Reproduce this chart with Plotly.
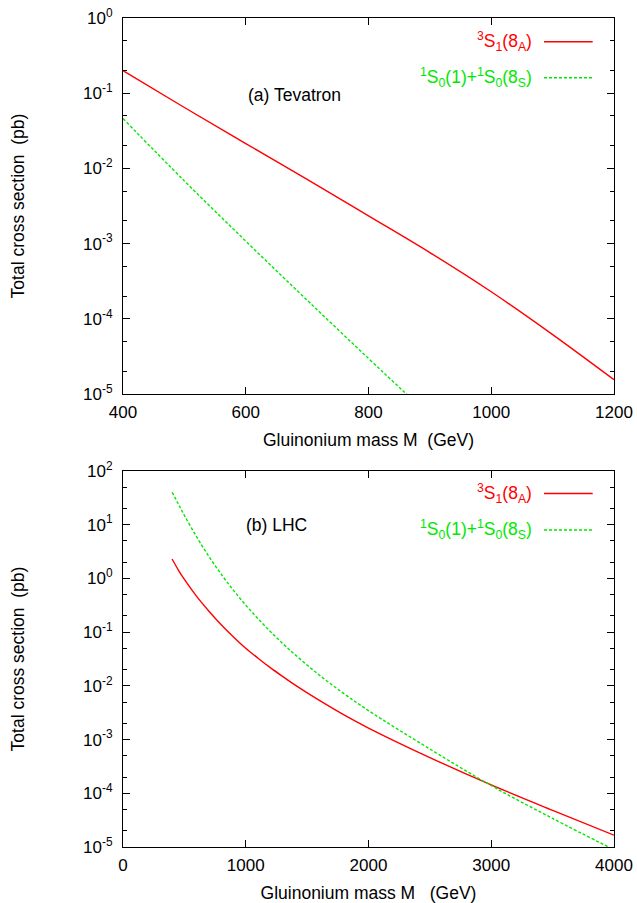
import plotly.graph_objects as go

# ---------------- data ----------------
# (a) Tevatron
tev_mass_3s1 = [400, 500, 600, 700, 800, 900, 1000, 1100, 1200]
tev_3s1 = [0.2, 0.0646, 0.0214, 7.16e-3, 2.34e-3, 7.6e-4, 2.29e-4, 6.17e-5, 1.55e-5]
tev_mass_1s0 = [400, 500, 600, 700, 800, 860, 900]
tev_1s0 = [0.046, 6.81e-3, 1.08e-3, 1.77e-4, 2.97e-5, 1.03e-5, 5.0e-6]

# (b) LHC
lhc_mass = [400, 450, 500, 600, 700, 800, 900, 1000, 1100, 1200, 1300, 1400, 1600, 1800,
            2000, 2500, 3000, 3500, 4000]
lhc_3s1 = [2.30, 1.445, 0.955, 0.462, 0.2455, 0.1377, 0.0815, 0.0501, 0.0327, 0.0218,
           0.0150, 0.01045, 5.35e-3, 2.88e-3, 1.64e-3, 4.62e-4, 1.43e-4, 4.81e-5, 1.66e-5]
lhc_1s0 = [40.1, 24.5, 14.9, 5.93, 2.56, 1.197, 0.600, 0.318, 0.178, 0.103,
           0.0618, 0.0383, 0.0158, 7.16e-3, 3.46e-3, 6.67e-4, 1.39e-4, 3.4e-5, 8.89e-6]

label_3s1 = "<sup>3</sup>S<sub>1</sub>(8<sub>A</sub>)"
label_1s0 = "<sup>1</sup>S<sub>0</sub>(1)+<sup>1</sup>S<sub>0</sub>(8<sub>S</sub>)"

top_yticks = [1e-5, 1e-4, 1e-3, 1e-2, 1e-1, 1]
top_yticktext = ["10<sup>-5</sup>", "10<sup>-4</sup>", "10<sup>-3</sup>",
                 "10<sup>-2</sup>", "10<sup>-1</sup>", "10<sup>0</sup>"]
bot_yticks = [1e-5, 1e-4, 1e-3, 1e-2, 1e-1, 1, 10, 100]
bot_yticktext = ["10<sup>-5</sup>", "10<sup>-4</sup>", "10<sup>-3</sup>",
                 "10<sup>-2</sup>", "10<sup>-1</sup>", "10<sup>0</sup>",
                 "10<sup>1</sup>", "10<sup>2</sup>"]
top_xticks = [400, 600, 800, 1000, 1200]
bot_xticks = [0, 1000, 2000, 3000, 4000]

# ---------------- styling ----------------
RED = "#ff0000"
GREEN = "#00e800"
FONT = "Liberation Sans, Arial, Helvetica, sans-serif"
FS_TICK = 17
FS = 17.5

def minor_vals(lo, hi):
    vals = []
    for e in range(lo, hi):
        for m in (2, 5):
            vals.append(m * 10.0 ** e)
    return vals

fig = go.Figure()

fig.add_trace(go.Scatter(x=tev_mass_3s1, y=tev_3s1, mode="lines",
                         line=dict(color=RED, width=1.4, shape="spline", smoothing=1),
                         xaxis="x", yaxis="y", showlegend=False))
fig.add_trace(go.Scatter(x=tev_mass_1s0, y=tev_1s0, mode="lines",
                         line=dict(color=GREEN, width=1.4, dash="3px,2px", shape="spline", smoothing=1),
                         xaxis="x", yaxis="y", showlegend=False))
fig.add_trace(go.Scatter(x=lhc_mass, y=lhc_3s1, mode="lines",
                         line=dict(color=RED, width=1.4, shape="spline", smoothing=1),
                         xaxis="x2", yaxis="y2", showlegend=False))
fig.add_trace(go.Scatter(x=lhc_mass, y=lhc_1s0, mode="lines",
                         line=dict(color=GREEN, width=1.4, dash="3px,2px", shape="spline", smoothing=1),
                         xaxis="x2", yaxis="y2", showlegend=False))

axis_common = dict(showline=True, linecolor="#000", linewidth=1, mirror="ticks",
                   ticks="inside", ticklen=7, tickwidth=1, tickcolor="#000",
                   showgrid=False, zeroline=False, automargin=False,
                   tickfont=dict(family=FONT, size=FS_TICK, color="#000"))

xtitle = "Gluinonium mass M\u00a0\u00a0(GeV)"
ytitle = "Total cross section\u00a0\u00a0(pb)"

TOP_DOM = [0.5464, 1.0]
BOT_DOM = [0.0, 0.4536]

fig.update_layout(
    width=637, height=903,
    margin=dict(l=123, r=23, t=18, b=56, autoexpand=False),
    paper_bgcolor="white", plot_bgcolor="white",
    font=dict(family=FONT, size=FS, color="#000"),
    showlegend=False,
    xaxis=dict(axis_common, domain=[0, 1], anchor="y", range=[400, 1200],
               tickmode="array", tickvals=top_xticks, ticklabelstandoff=3,
               title=dict(text=xtitle, standoff=12, font=dict(family=FONT, size=FS))),
    yaxis=dict(axis_common, domain=TOP_DOM, anchor="x", type="log", range=[-5, 0],
               tickmode="array", tickvals=top_yticks, ticktext=top_yticktext,
               ticklabelstandoff=6,
               minor=dict(tickmode="array", tickvals=minor_vals(-5, 0), ticks="inside",
                          ticklen=4, tickcolor="#000", showgrid=False),
               title=dict(text=ytitle, standoff=53, font=dict(family=FONT, size=FS))),
    xaxis2=dict(axis_common, domain=[0, 1], anchor="y2", range=[0, 4000],
                tickmode="array", tickvals=bot_xticks, ticklabelstandoff=3,
                title=dict(text="Gluinonium mass M\u00a0\u00a0\u00a0(GeV)", standoff=12,
                           font=dict(family=FONT, size=FS))),
    yaxis2=dict(axis_common, domain=BOT_DOM, anchor="x2", type="log", range=[-5, 2],
                tickmode="array", tickvals=bot_yticks, ticktext=bot_yticktext,
                ticklabelstandoff=6,
                minor=dict(tickmode="array", tickvals=minor_vals(-5, 2), ticks="inside",
                           ticklen=4, tickcolor="#000", showgrid=False),
                title=dict(text=ytitle, standoff=53, font=dict(family=FONT, size=FS))),
)

# panel labels
fig.add_annotation(text="(a) Tevatron", xref="paper", yref="paper", x=0.3497, y=0.9071,
                   showarrow=False, xanchor="center", yanchor="middle",
                   font=dict(family=FONT, size=FS, color="#000"))
fig.add_annotation(text="(b) LHC", xref="paper", yref="paper", x=0.3136, y=0.3884,
                   showarrow=False, xanchor="center", yanchor="middle",
                   font=dict(family=FONT, size=FS, color="#000"))

# gnuplot-style key: text on the left (right-aligned), line sample on the right
key_rows = [
    (label_3s1, RED, "solid", 0.9714),
    (label_1s0, GREEN, "3px,2px", 0.9280),
    (label_3s1, RED, "solid", 0.4264),
    (label_1s0, GREEN, "3px,2px", 0.3824),
]
for text, color, dash, yk in key_rows:
    fig.add_annotation(text=text, xref="paper", yref="paper", x=0.8365, y=yk,
                       showarrow=False, xanchor="right", yanchor="middle", align="right",
                       font=dict(family=FONT, size=FS, color=color))
    fig.add_shape(type="line", xref="paper", yref="paper", x0=0.8574, x1=0.9566,
                  y0=yk, y1=yk, line=dict(color=color, width=1.4, dash=dash))

# remove the default 8px body margin so the 637x903 figure fills the window exactly
fig.write_html("out.html",
               config={"displayModeBar": False},
               post_script="document.body.style.margin='0';"
                           "document.body.style.overflow='hidden';")
